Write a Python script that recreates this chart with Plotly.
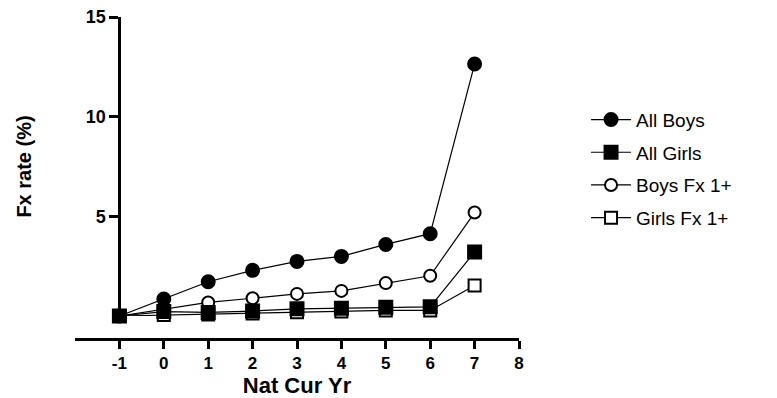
import plotly.graph_objects as go

years = [-1, 0, 1, 2, 3, 4, 5, 6, 7]
all_boys = [0, 0.85, 1.72, 2.29, 2.74, 2.99, 3.59, 4.13, 12.64]
all_girls = [0, 0.22, 0.18, 0.25, 0.36, 0.39, 0.44, 0.46, 3.21]
boys_fx1 = [0, 0.33, 0.68, 0.89, 1.11, 1.26, 1.65, 2.02, 5.19]
girls_fx1 = [0, 0.05, 0.08, 0.13, 0.19, 0.23, 0.28, 0.28, 1.53]

x_ticks = [-1, 0, 1, 2, 3, 4, 5, 6, 7, 8]
y_ticks = [5, 10, 15]

FONT = "Liberation Sans, Arial, sans-serif"

fig = go.Figure()

def add(name, y, symbol, fill, rank, size):
    fig.add_trace(go.Scatter(
        x=years, y=y, name=name, mode="lines+markers",
        line=dict(color="black", width=1.2),
        marker=dict(symbol=symbol, size=size, color=fill,
                    line=dict(color="black", width=2)),
        cliponaxis=False, legendrank=rank, legendgroup=name,
    ))

# drawing order (later on top)
add("All Boys", all_boys, "circle", "black", 1, 13)
add("Boys Fx 1+", boys_fx1, "circle", "white", 3, 12)
add("Girls Fx 1+", girls_fx1, "square", "white", 4, 12)
add("All Girls", all_girls, "square", "black", 2, 13)

fig.update_layout(
    width=777, height=398,
    margin=dict(l=75, r=258, t=17, b=59, autoexpand=False),
    plot_bgcolor="white", paper_bgcolor="white",
    font=dict(family=FONT, color="black"),
    showlegend=True,
    legend=dict(x=1.151, y=0.74, xanchor="left", yanchor="top",
                font=dict(family=FONT, size=19, color="black"),
                tracegroupgap=5, itemwidth=40,
                bgcolor="rgba(0,0,0,0)"),
    xaxis=dict(
        range=[-2, 8], domain=[0, 1], anchor="free", position=0,
        automargin=False,
        tickvals=x_ticks, ticktext=[str(v) for v in x_ticks],
        showline=True, linecolor="black", linewidth=3,
        ticks="outside", ticklen=8, tickwidth=3, tickcolor="black",
        showgrid=False, zeroline=False,
        tickfont=dict(family=FONT, size=17, color="black", weight="bold"),
        title=dict(text="<b>Nat Cur Yr</b>", standoff=9,
                   font=dict(family=FONT, size=22, color="black")),
    ),
    yaxis=dict(
        range=[0, 15], domain=[0.0714, 1], anchor="free", position=0.1,
        automargin=False,
        tickvals=y_ticks, ticktext=[str(v) for v in y_ticks],
        showline=True, linecolor="black", linewidth=3,
        ticks="outside", ticklen=9, tickwidth=3, tickcolor="black",
        showgrid=False, zeroline=False,
        tickfont=dict(family=FONT, size=18, color="black", weight="bold"),
        title=dict(text="<b>Fx rate (%)</b>", standoff=47,
                   font=dict(family=FONT, size=20, color="black")),
    ),
)

fig.write_html("out.html")
